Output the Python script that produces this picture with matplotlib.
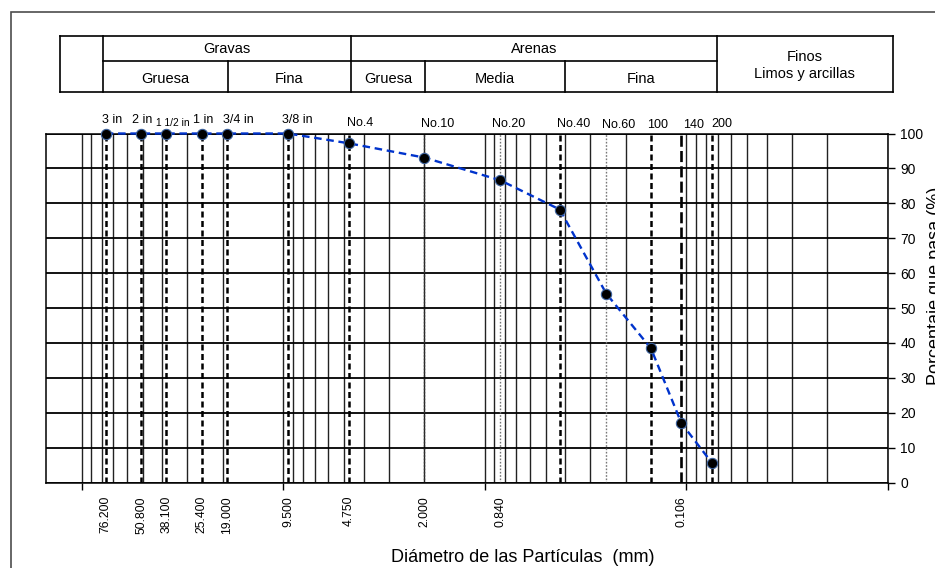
import numpy as np
import matplotlib.pyplot as plt
from matplotlib.lines import Line2D
from matplotlib.patches import Rectangle
from matplotlib.ticker import FixedLocator, MultipleLocator, NullFormatter
from matplotlib.transforms import blended_transform_factory, offset_copy

plt.rcParams['font.family'] = ['Liberation Sans', 'DejaVu Sans']

W, H = 935, 568

# sieve openings (mm), sieve names and percent passing
sieve_mm = [76.2, 50.8, 38.1, 25.4, 19.0, 9.5, 4.75, 2.0, 0.84, 0.425, 0.25, 0.15, 0.106, 0.075]
sieve_names = ["3 in", "2 in", "1 1/2 in", "1 in", "3/4 in", "3/8 in", "No.4",
               "No.10", "No.20", "No.40", "No.60", "100", "140", "200"]
passing = [100, 100, 100, 100, 100, 100, 97.2, 93.1, 86.6, 78.2, 54.1, 38.4, 17.0, 5.7]

# openings written under the axis
size_labels = [76.2, 50.8, 38.1, 25.4, 19.0, 9.5, 4.75, 2.0, 0.84, 0.106]

# soil classification header
top_row = ["Gravas", "Arenas"]
sub_row = ["Gruesa", "Fina", "Gruesa", "Media", "Fina"]
fines_lines = ["Finos", "Limos y arcillas"]

# line style for each sieve line
sieve_style = ["bold"] * 7 + ["dark_dot", "grey_dot", "bold", "grey_dot", "bold", "long", "bold"]
styles = {
    "bold": dict(color="black", lw=1.8, ls=(0, (2.4, 1.4))),
    "long": dict(color="black", lw=1.9, ls=(0, (4.2, 1.6))),
    "dark_dot": dict(color="#333333", lw=1.0, ls=(0, (1.2, 1.2))),
    "grey_dot": dict(color="#777777", lw=1.0, ls=(0, (1.2, 1.2))),
}
# label nudges (px) and rise above the frame (px)
name_dx = [-3.7, -9.3, -10.6, -8.6, -4, -5.5, -2, -3.5, -8.3, -3, -4, -4.3, 1.7, 0]
name_rise = [10.8, 10.8, 8.0, 10.8, 10.8, 10.8, 7.5, 6.2, 6.2, 6.2, 5.2, 5.2, 5.2, 6.8]

decades = [100, 10, 1, 0.1, 0.01]
minor_x = [k * d for d in decades[1:] for k in range(2, 10)]


def fx(x):
    return x / W


def fy(y):
    return 1 - y / H


fig = plt.figure(figsize=(W / 100, H / 100), dpi=100)
ax = fig.add_axes([fx(45.7), fy(482.5), (888 - 45.7) / W, (482.5 - 133.5) / H])

ax.set_xscale("log")
ax.set_xlim(151.4, 0.01)
ax.set_ylim(0, 100)

ax.xaxis.set_major_locator(FixedLocator(decades))
ax.xaxis.set_minor_locator(FixedLocator(minor_x))
ax.xaxis.set_major_formatter(NullFormatter())
ax.xaxis.set_minor_formatter(NullFormatter())
ax.yaxis.set_major_locator(MultipleLocator(10))
ax.yaxis.tick_right()
ax.tick_params(axis="x", which="major", direction="out", length=5, width=1, color="black")
ax.tick_params(axis="x", which="minor", length=0)
ax.tick_params(axis="y", direction="out", length=5, width=1, labelsize=10, pad=4)
ax.tick_params(axis="y", which="minor", length=0)

ax.grid(True, axis="x", which="both", color="#222222", lw=1.0, zorder=1)
ax.grid(True, axis="y", which="major", color="black", lw=1.3, zorder=1)
for s in ax.spines.values():
    s.set_color("black")
    s.set_linewidth(1.1)

for d, st in zip(sieve_mm, sieve_style):
    ax.axvline(d, zorder=2, **styles[st])

ax.plot(sieve_mm, passing, color="#0033cc", lw=1.7, ls=(0, (3.2, 2.0)),
        marker="o", ms=7.4, mfc="black", mec="#3a5f9a", mew=0.8,
        clip_on=False, zorder=5)

# sieve names above the frame
top = blended_transform_factory(ax.transData, ax.transAxes)
for d, name, dx, rise in zip(sieve_mm, sieve_names, name_dx, name_rise):
    tr = offset_copy(top, fig=fig, x=dx, y=rise, units="dots")
    size = 7.4 if name == "1 1/2 in" else 9
    ax.text(d, 1.0, name, transform=tr, ha="left", va="baseline",
            fontsize=size, clip_on=False)

# opening sizes under the axis
for d in size_labels:
    tr = offset_copy(top, fig=fig, x=0, y=-13.5, units="dots")
    ax.text(d, 0, f"{d:.3f}", transform=tr, rotation=90, ha="center", va="top",
            fontsize=8.7, clip_on=False)

fig.text(fx(523), fy(557), "Diámetro de las Partículas  (mm)", ha="center",
         va="center", fontsize=13)
fig.text(fx(927), fy(286), "Porcentaje que pasa (%)", rotation=90, ha="left",
         va="center", fontsize=13)

# outer border
fig.add_artist(Rectangle((fx(11), fy(1200)), 2, fy(12) - fy(1200),
                         transform=fig.transFigure, fill=False,
                         edgecolor="#4d4d4d", lw=1.2))


def seg(x0, y0, x1, y1):
    fig.add_artist(Line2D([fx(x0), fx(x1)], [fy(y0), fy(y1)],
                          transform=fig.transFigure, color="black", lw=1.2))


# classification table
t0, tm, t1 = 36, 61, 91.7
seg(60, t0, 893, t0)
seg(60, t1, 893, t1)
for x in (60, 103.3, 350.7, 716.7, 893):
    seg(x, t0, x, t1)
seg(103.3, tm, 716.7, tm)
for x in (227.7, 425.3, 565):
    seg(x, tm, x, t1)

for label, cx in zip(top_row, (227, 533.7)):
    fig.text(fx(cx), fy(49), label, ha="center", va="center", fontsize=10.5)
for label, cx in zip(sub_row, (165.5, 289.2, 388, 495.2, 640.8)):
    fig.text(fx(cx), fy(79), label, ha="center", va="center", fontsize=10.5)
for label, cy in zip(fines_lines, (57.3, 74)):
    fig.text(fx(804.8), fy(cy), label, ha="center", va="center", fontsize=10.5)

fig.savefig("out.png", dpi=100)
